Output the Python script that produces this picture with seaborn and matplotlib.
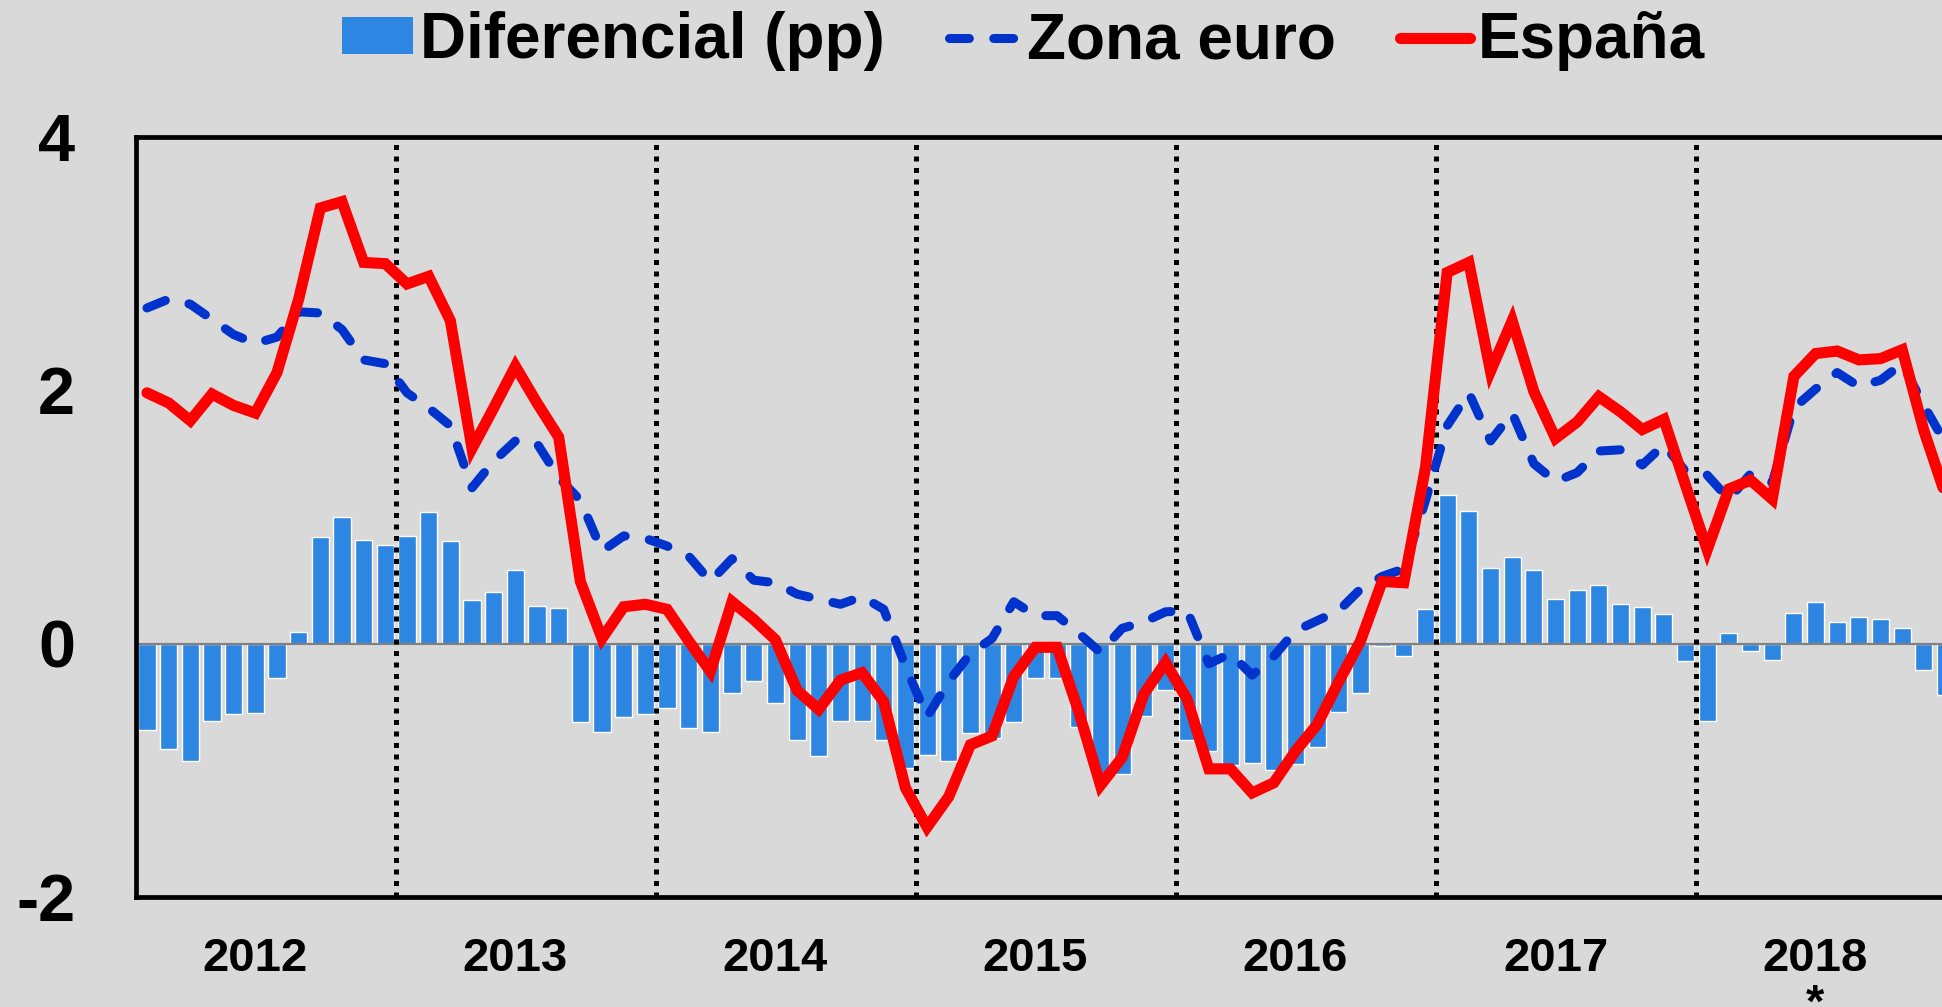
import numpy as np
import pandas as pd
import seaborn as sns
import matplotlib.pyplot as plt
from matplotlib.patches import Patch
from matplotlib.lines import Line2D

# monthly data, Jan 2012 - Dec 2018
meses = pd.date_range("2012-01-01", "2018-12-01", freq="MS").strftime("%Y-%m").tolist()

diferencial = [-0.68, -0.83, -0.93, -0.61, -0.56, -0.55, -0.27, 0.09, 0.84, 1.00, 0.82, 0.78,
               0.85, 1.04, 0.81, 0.34, 0.41, 0.58, 0.30, 0.28, -0.62, -0.70, -0.58, -0.56,
               -0.51, -0.67, -0.70, -0.39, -0.30, -0.47, -0.76, -0.89, -0.61, -0.61, -0.76, -0.98,
               -0.88, -0.93, -0.71, -0.75, -0.62, -0.27, -0.27, -0.66, -1.05, -1.03, -0.57, -0.37,
               -0.76, -0.85, -0.96, -0.94, -1.00, -0.95, -0.82, -0.54, -0.39, -0.02, -0.10, 0.27,
               1.17, 1.05, 0.60, 0.68, 0.58, 0.35, 0.42, 0.46, 0.31, 0.29, 0.23, -0.14,
               -0.61, 0.08, -0.06, -0.13, 0.24, 0.33, 0.17, 0.21, 0.19, 0.12, -0.21, -0.41]

zona_euro = [2.65, 2.72, 2.68, 2.56, 2.44, 2.37, 2.42, 2.62, 2.61, 2.48, 2.24, 2.21,
             1.98, 1.86, 1.72, 1.23, 1.44, 1.60, 1.58, 1.31, 1.13, 0.73, 0.85, 0.83,
             0.77, 0.69, 0.49, 0.67, 0.50, 0.48, 0.39, 0.35, 0.31, 0.37, 0.27, -0.18,
             -0.58, -0.30, -0.08, 0.04, 0.33, 0.22, 0.22, 0.08, -0.07, 0.12, 0.17, 0.25,
             0.26, -0.16, -0.08, -0.25, -0.10, 0.10, 0.18, 0.26, 0.43, 0.53, 0.59, 1.13,
             1.72, 1.98, 1.60, 1.82, 1.42, 1.28, 1.35, 1.52, 1.53, 1.41, 1.57, 1.36,
             1.33, 1.14, 1.34, 1.27, 1.86, 2.01, 2.14, 2.03, 2.08, 2.21, 1.88, 1.58]

espana = [1.98, 1.90, 1.76, 1.97, 1.88, 1.82, 2.14, 2.72, 3.44, 3.49, 3.01, 3.00,
          2.84, 2.90, 2.55, 1.54, 1.86, 2.19, 1.90, 1.63, 0.49, 0.04, 0.29, 0.31,
          0.27, 0.02, -0.22, 0.33, 0.19, 0.03, -0.37, -0.52, -0.29, -0.23, -0.46, -1.14,
          -1.45, -1.21, -0.80, -0.73, -0.26, -0.03, -0.03, -0.54, -1.12, -0.90, -0.40, -0.15,
          -0.44, -0.99, -0.99, -1.18, -1.10, -0.85, -0.64, -0.30, 0.02, 0.49, 0.48, 1.39,
          2.93, 3.01, 2.15, 2.55, 1.99, 1.62, 1.75, 1.95, 1.83, 1.69, 1.77, 1.25,
          0.74, 1.22, 1.29, 1.14, 2.11, 2.29, 2.31, 2.24, 2.25, 2.32, 1.68, 1.17]

anios = ["2012", "2013", "2014", "2015", "2016", "2017", "2018\n*"]

df = pd.DataFrame({"mes": meses, "pos": np.arange(len(meses)),
                   "diferencial": diferencial, "zona_euro": zona_euro, "espana": espana})

bg = "#D9D9D9"
c_bar = "#2E86E3"
c_euro = "#0033CC"
c_esp = "#FF0000"

sns.set_style("white")
plt.rcParams["font.family"] = ["Liberation Sans", "DejaVu Sans"]
plt.rcParams["font.weight"] = "bold"
plt.rcParams["text.color"] = "black"
plt.rcParams["xtick.color"] = "black"
plt.rcParams["ytick.color"] = "black"

fig = plt.figure(figsize=(19.42, 10.07), dpi=100, facecolor=bg)
# axes runs past the right edge of the figure (chart is cropped there)
ax = fig.add_axes([0.0701, 0.1095, 85 * 21.67 / 1942, 0.7544], facecolor=bg)

sns.barplot(data=df, x="pos", y="diferencial", native_scale=True, width=0.79,
            color=c_bar, saturation=1, ax=ax, zorder=1)
ax.axhline(0, color="#808080", linewidth=1.6, zorder=2)

# dotted year separators
for k in range(1, 7):
    ax.axvline(12 * k - 0.5, color="black", linewidth=3.6, linestyle=(0, (1, 1.3)), zorder=2.5)

sns.lineplot(data=df, x="pos", y="zona_euro", color=c_euro, linewidth=6.5,
             linestyle=(0, (2.2, 2.7)), dash_capstyle="round", ax=ax, zorder=3)
sns.lineplot(data=df, x="pos", y="espana", color=c_esp, linewidth=8,
             solid_joinstyle="miter", ax=ax, zorder=4)

ax.set_xlim(-0.5, 84.5)
ax.set_ylim(-2, 4)
ax.set_xlabel("")
ax.set_ylabel("")

ax.set_yticks([-2, 0, 2, 4])
ax.set_yticklabels(["-2", "0", "2", "4"], fontsize=48, fontweight="bold", color="black")
ax.set_xticks([5 + 12 * k for k in range(7)])
ax.set_xticklabels(anios, fontsize=34, fontweight="bold", linespacing=1.05, color="black")
ax.tick_params(axis="y", length=0, pad=44)
ax.tick_params(axis="x", length=0, pad=29)

for s in ["left", "top", "bottom"]:
    ax.spines[s].set_visible(True)
    ax.spines[s].set_color("black")
    ax.spines[s].set_linewidth(3.4)
ax.spines["right"].set_visible(False)

handles = [Patch(facecolor=c_bar, edgecolor="none", label="Diferencial (pp)"),
           Line2D([0], [0], color=c_euro, linewidth=6.5, linestyle=(0, (2.2, 2.7)),
                  dash_capstyle="round", label="Zona euro"),
           Line2D([0], [0], color=c_esp, linewidth=8, solid_capstyle="round", label="España")]
fig.legend(handles=handles, loc="center", bbox_to_anchor=(0.527, 0.959), ncol=3,
           frameon=False, prop={"size": 46, "weight": "bold"},
           handlelength=1.1, handleheight=0.5, handletextpad=0.12, columnspacing=1.0,
           borderpad=0, borderaxespad=0)

fig.savefig("out.png", dpi=100, facecolor=bg)
